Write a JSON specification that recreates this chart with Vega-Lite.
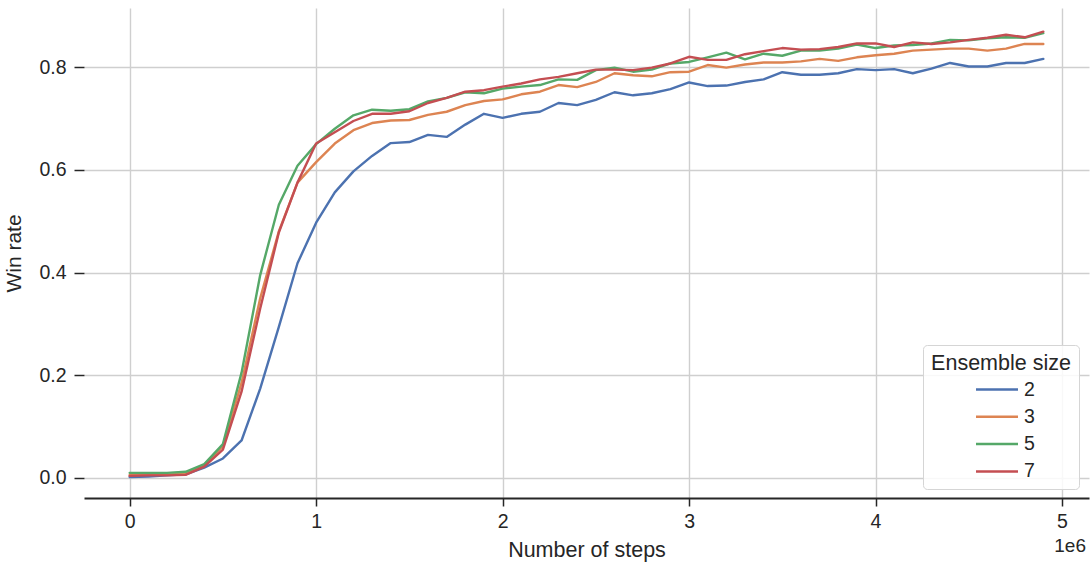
{
"$schema": "https://vega.github.io/schema/vega-lite/v6.json",
"width": 1005, "height": 490,
"autosize": {"type": "none"},
"padding": {"left": 84, "top": 8, "right": 2, "bottom": 65},
"background": "white",
"config": {"font": "Liberation Sans", "view": {"stroke": null}},
"title": {"text": "1e6", "orient": "bottom", "anchor": "end", "frame": "group", "offset": -24, "dx": -3, "fontSize": 19, "fontWeight": "normal", "color": "#262626", "font": "Liberation Sans"},
"data": {"values": [
{"step":0,"win_rate":0.002,"size":"2"},{"step":100000,"win_rate":0.003,"size":"2"},{"step":200000,"win_rate":0.005,"size":"2"},{"step":300000,"win_rate":0.007,"size":"2"},{"step":400000,"win_rate":0.02,"size":"2"},{"step":500000,"win_rate":0.038,"size":"2"},{"step":600000,"win_rate":0.073,"size":"2"},{"step":700000,"win_rate":0.174,"size":"2"},{"step":800000,"win_rate":0.294,"size":"2"},{"step":900000,"win_rate":0.418,"size":"2"},
{"step":1000000,"win_rate":0.497,"size":"2"},{"step":1100000,"win_rate":0.556,"size":"2"},{"step":1200000,"win_rate":0.597,"size":"2"},{"step":1300000,"win_rate":0.627,"size":"2"},{"step":1400000,"win_rate":0.652,"size":"2"},{"step":1500000,"win_rate":0.654,"size":"2"},{"step":1600000,"win_rate":0.668,"size":"2"},{"step":1700000,"win_rate":0.664,"size":"2"},{"step":1800000,"win_rate":0.688,"size":"2"},{"step":1900000,"win_rate":0.709,"size":"2"},
{"step":2000000,"win_rate":0.701,"size":"2"},{"step":2100000,"win_rate":0.709,"size":"2"},{"step":2200000,"win_rate":0.713,"size":"2"},{"step":2300000,"win_rate":0.73,"size":"2"},{"step":2400000,"win_rate":0.726,"size":"2"},{"step":2500000,"win_rate":0.736,"size":"2"},{"step":2600000,"win_rate":0.751,"size":"2"},{"step":2700000,"win_rate":0.745,"size":"2"},{"step":2800000,"win_rate":0.749,"size":"2"},{"step":2900000,"win_rate":0.757,"size":"2"},
{"step":3000000,"win_rate":0.77,"size":"2"},{"step":3100000,"win_rate":0.763,"size":"2"},{"step":3200000,"win_rate":0.764,"size":"2"},{"step":3300000,"win_rate":0.771,"size":"2"},{"step":3400000,"win_rate":0.776,"size":"2"},{"step":3500000,"win_rate":0.79,"size":"2"},{"step":3600000,"win_rate":0.785,"size":"2"},{"step":3700000,"win_rate":0.785,"size":"2"},{"step":3800000,"win_rate":0.788,"size":"2"},{"step":3900000,"win_rate":0.796,"size":"2"},
{"step":4000000,"win_rate":0.794,"size":"2"},{"step":4100000,"win_rate":0.796,"size":"2"},{"step":4200000,"win_rate":0.788,"size":"2"},{"step":4300000,"win_rate":0.797,"size":"2"},{"step":4400000,"win_rate":0.808,"size":"2"},{"step":4500000,"win_rate":0.801,"size":"2"},{"step":4600000,"win_rate":0.801,"size":"2"},{"step":4700000,"win_rate":0.808,"size":"2"},{"step":4800000,"win_rate":0.808,"size":"2"},{"step":4900000,"win_rate":0.816,"size":"2"},
{"step":0,"win_rate":0.006,"size":"3"},{"step":100000,"win_rate":0.006,"size":"3"},{"step":200000,"win_rate":0.007,"size":"3"},{"step":300000,"win_rate":0.008,"size":"3"},{"step":400000,"win_rate":0.025,"size":"3"},{"step":500000,"win_rate":0.062,"size":"3"},{"step":600000,"win_rate":0.185,"size":"3"},{"step":700000,"win_rate":0.35,"size":"3"},{"step":800000,"win_rate":0.48,"size":"3"},{"step":900000,"win_rate":0.575,"size":"3"},
{"step":1000000,"win_rate":0.615,"size":"3"},{"step":1100000,"win_rate":0.651,"size":"3"},{"step":1200000,"win_rate":0.677,"size":"3"},{"step":1300000,"win_rate":0.691,"size":"3"},{"step":1400000,"win_rate":0.696,"size":"3"},{"step":1500000,"win_rate":0.697,"size":"3"},{"step":1600000,"win_rate":0.707,"size":"3"},{"step":1700000,"win_rate":0.713,"size":"3"},{"step":1800000,"win_rate":0.726,"size":"3"},{"step":1900000,"win_rate":0.734,"size":"3"},
{"step":2000000,"win_rate":0.737,"size":"3"},{"step":2100000,"win_rate":0.747,"size":"3"},{"step":2200000,"win_rate":0.752,"size":"3"},{"step":2300000,"win_rate":0.765,"size":"3"},{"step":2400000,"win_rate":0.761,"size":"3"},{"step":2500000,"win_rate":0.771,"size":"3"},{"step":2600000,"win_rate":0.788,"size":"3"},{"step":2700000,"win_rate":0.784,"size":"3"},{"step":2800000,"win_rate":0.782,"size":"3"},{"step":2900000,"win_rate":0.79,"size":"3"},
{"step":3000000,"win_rate":0.791,"size":"3"},{"step":3100000,"win_rate":0.804,"size":"3"},{"step":3200000,"win_rate":0.799,"size":"3"},{"step":3300000,"win_rate":0.805,"size":"3"},{"step":3400000,"win_rate":0.809,"size":"3"},{"step":3500000,"win_rate":0.809,"size":"3"},{"step":3600000,"win_rate":0.811,"size":"3"},{"step":3700000,"win_rate":0.816,"size":"3"},{"step":3800000,"win_rate":0.812,"size":"3"},{"step":3900000,"win_rate":0.819,"size":"3"},
{"step":4000000,"win_rate":0.823,"size":"3"},{"step":4100000,"win_rate":0.826,"size":"3"},{"step":4200000,"win_rate":0.832,"size":"3"},{"step":4300000,"win_rate":0.834,"size":"3"},{"step":4400000,"win_rate":0.836,"size":"3"},{"step":4500000,"win_rate":0.836,"size":"3"},{"step":4600000,"win_rate":0.832,"size":"3"},{"step":4700000,"win_rate":0.836,"size":"3"},{"step":4800000,"win_rate":0.845,"size":"3"},{"step":4900000,"win_rate":0.845,"size":"3"},
{"step":0,"win_rate":0.01,"size":"5"},{"step":100000,"win_rate":0.01,"size":"5"},{"step":200000,"win_rate":0.01,"size":"5"},{"step":300000,"win_rate":0.012,"size":"5"},{"step":400000,"win_rate":0.027,"size":"5"},{"step":500000,"win_rate":0.066,"size":"5"},{"step":600000,"win_rate":0.205,"size":"5"},{"step":700000,"win_rate":0.395,"size":"5"},{"step":800000,"win_rate":0.532,"size":"5"},{"step":900000,"win_rate":0.608,"size":"5"},
{"step":1000000,"win_rate":0.65,"size":"5"},{"step":1100000,"win_rate":0.68,"size":"5"},{"step":1200000,"win_rate":0.706,"size":"5"},{"step":1300000,"win_rate":0.717,"size":"5"},{"step":1400000,"win_rate":0.715,"size":"5"},{"step":1500000,"win_rate":0.718,"size":"5"},{"step":1600000,"win_rate":0.733,"size":"5"},{"step":1700000,"win_rate":0.74,"size":"5"},{"step":1800000,"win_rate":0.751,"size":"5"},{"step":1900000,"win_rate":0.749,"size":"5"},
{"step":2000000,"win_rate":0.758,"size":"5"},{"step":2100000,"win_rate":0.762,"size":"5"},{"step":2200000,"win_rate":0.765,"size":"5"},{"step":2300000,"win_rate":0.776,"size":"5"},{"step":2400000,"win_rate":0.775,"size":"5"},{"step":2500000,"win_rate":0.794,"size":"5"},{"step":2600000,"win_rate":0.799,"size":"5"},{"step":2700000,"win_rate":0.791,"size":"5"},{"step":2800000,"win_rate":0.795,"size":"5"},{"step":2900000,"win_rate":0.807,"size":"5"},
{"step":3000000,"win_rate":0.81,"size":"5"},{"step":3100000,"win_rate":0.819,"size":"5"},{"step":3200000,"win_rate":0.828,"size":"5"},{"step":3300000,"win_rate":0.815,"size":"5"},{"step":3400000,"win_rate":0.826,"size":"5"},{"step":3500000,"win_rate":0.822,"size":"5"},{"step":3600000,"win_rate":0.832,"size":"5"},{"step":3700000,"win_rate":0.832,"size":"5"},{"step":3800000,"win_rate":0.836,"size":"5"},{"step":3900000,"win_rate":0.844,"size":"5"},
{"step":4000000,"win_rate":0.837,"size":"5"},{"step":4100000,"win_rate":0.842,"size":"5"},{"step":4200000,"win_rate":0.843,"size":"5"},{"step":4300000,"win_rate":0.846,"size":"5"},{"step":4400000,"win_rate":0.853,"size":"5"},{"step":4500000,"win_rate":0.852,"size":"5"},{"step":4600000,"win_rate":0.856,"size":"5"},{"step":4700000,"win_rate":0.858,"size":"5"},{"step":4800000,"win_rate":0.857,"size":"5"},{"step":4900000,"win_rate":0.866,"size":"5"},
{"step":0,"win_rate":0.004,"size":"7"},{"step":100000,"win_rate":0.005,"size":"7"},{"step":200000,"win_rate":0.005,"size":"7"},{"step":300000,"win_rate":0.006,"size":"7"},{"step":400000,"win_rate":0.022,"size":"7"},{"step":500000,"win_rate":0.055,"size":"7"},{"step":600000,"win_rate":0.168,"size":"7"},{"step":700000,"win_rate":0.33,"size":"7"},{"step":800000,"win_rate":0.478,"size":"7"},{"step":900000,"win_rate":0.575,"size":"7"},
{"step":1000000,"win_rate":0.651,"size":"7"},{"step":1100000,"win_rate":0.673,"size":"7"},{"step":1200000,"win_rate":0.695,"size":"7"},{"step":1300000,"win_rate":0.709,"size":"7"},{"step":1400000,"win_rate":0.709,"size":"7"},{"step":1500000,"win_rate":0.714,"size":"7"},{"step":1600000,"win_rate":0.73,"size":"7"},{"step":1700000,"win_rate":0.74,"size":"7"},{"step":1800000,"win_rate":0.752,"size":"7"},{"step":1900000,"win_rate":0.755,"size":"7"},
{"step":2000000,"win_rate":0.762,"size":"7"},{"step":2100000,"win_rate":0.768,"size":"7"},{"step":2200000,"win_rate":0.776,"size":"7"},{"step":2300000,"win_rate":0.781,"size":"7"},{"step":2400000,"win_rate":0.788,"size":"7"},{"step":2500000,"win_rate":0.795,"size":"7"},{"step":2600000,"win_rate":0.795,"size":"7"},{"step":2700000,"win_rate":0.794,"size":"7"},{"step":2800000,"win_rate":0.799,"size":"7"},{"step":2900000,"win_rate":0.807,"size":"7"},
{"step":3000000,"win_rate":0.82,"size":"7"},{"step":3100000,"win_rate":0.814,"size":"7"},{"step":3200000,"win_rate":0.814,"size":"7"},{"step":3300000,"win_rate":0.825,"size":"7"},{"step":3400000,"win_rate":0.831,"size":"7"},{"step":3500000,"win_rate":0.837,"size":"7"},{"step":3600000,"win_rate":0.834,"size":"7"},{"step":3700000,"win_rate":0.835,"size":"7"},{"step":3800000,"win_rate":0.839,"size":"7"},{"step":3900000,"win_rate":0.846,"size":"7"},
{"step":4000000,"win_rate":0.846,"size":"7"},{"step":4100000,"win_rate":0.839,"size":"7"},{"step":4200000,"win_rate":0.848,"size":"7"},{"step":4300000,"win_rate":0.845,"size":"7"},{"step":4400000,"win_rate":0.848,"size":"7"},{"step":4500000,"win_rate":0.853,"size":"7"},{"step":4600000,"win_rate":0.857,"size":"7"},{"step":4700000,"win_rate":0.863,"size":"7"},{"step":4800000,"win_rate":0.858,"size":"7"},{"step":4900000,"win_rate":0.869,"size":"7"}
]},
"mark": {"type": "line", "strokeWidth": 2.4, "strokeJoin": "round", "strokeCap": "round"},
"encoding": {
  "x": {"field": "step", "type": "quantitative",
    "scale": {"domain": [-245000, 5145000], "nice": false, "zero": false},
    "axis": {"values": [0, 1000000, 2000000, 3000000, 4000000, 5000000], "labelExpr": "format(datum.value / 1000000, 'd')",
      "title": "Number of steps", "titleFontSize": 21.5, "titleFontWeight": "normal", "titleColor": "#262626", "titlePadding": 9,
      "labelFontSize": 19.5, "labelColor": "#262626", "labelPadding": 6,
      "domain": true, "domainColor": "#262626", "domainWidth": 1.8,
      "ticks": true, "tickColor": "#262626", "tickSize": 8, "tickWidth": 1.5,
      "grid": true, "gridColor": "#cfcfcf", "gridWidth": 1.4}},
  "y": {"field": "win_rate", "type": "quantitative",
    "scale": {"domain": [-0.039, 0.915], "nice": false, "zero": false},
    "axis": {"values": [0, 0.2, 0.4, 0.6, 0.8], "format": ".1f",
      "title": "Win rate", "titleFontSize": 21, "titleFontWeight": "normal", "titleColor": "#262626", "titlePadding": 14,
      "labelFontSize": 19.5, "labelColor": "#262626", "labelPadding": 8,
      "domain": false,
      "ticks": true, "tickColor": "#262626", "tickSize": 10, "tickWidth": 1.5,
      "grid": true, "gridColor": "#cfcfcf", "gridWidth": 1.4}},
  "color": {"field": "size", "type": "nominal",
    "scale": {"domain": ["2", "3", "5", "7"], "range": ["#4c72b0", "#dd8452", "#55a868", "#c44e52"]},
    "legend": {"title": "Ensemble size", "orient": "none", "legendX": 839, "legendY": 337,
      "titleFontSize": 21.5, "titleFontWeight": "normal", "titleColor": "#262626", "titleAnchor": "middle", "titlePadding": 3,
      "labelFontSize": 19.5, "labelColor": "#262626", "labelOffset": 15,
      "symbolType": "M-2,0H2", "symbolSize": 441, "symbolStrokeWidth": 2.5, "symbolFillColor": "transparent", "symbolOffset": 18,
      "rowPadding": 5.3, "padding": 8, "cornerRadius": 4,
      "strokeColor": "#d5d5d5", "fillColor": "rgba(255,255,255,0.85)"}}
}
}
